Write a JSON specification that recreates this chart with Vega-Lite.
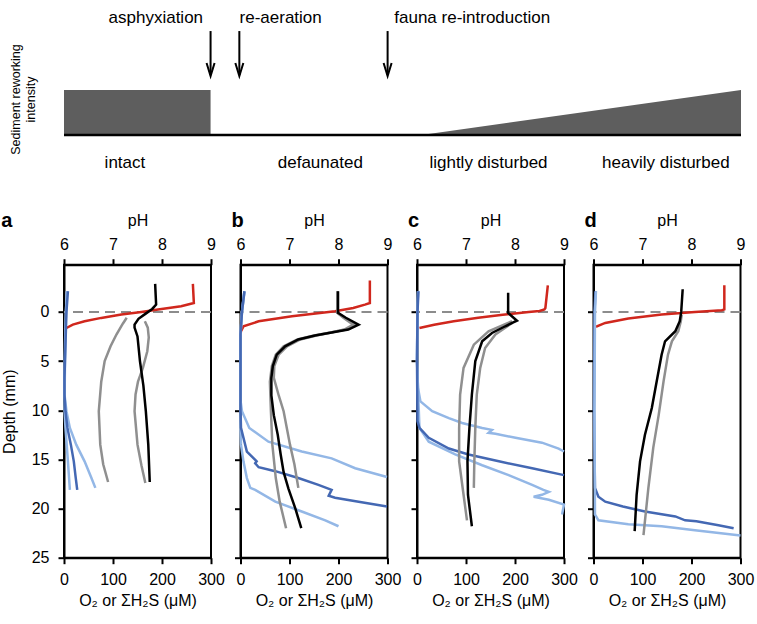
{
  "$schema": "https://vega.github.io/schema/vega-lite/v6.json",
  "padding": {"left": 0, "top": 0, "right": 0, "bottom": 0},
  "config": {
    "font": "Liberation Sans",
    "view": {"stroke": "black", "strokeWidth": 2},
    "axis": {"domainColor": "black", "domainWidth": 2, "tickColor": "black", "tickWidth": 2, "tickSize": 6, "labelFontSize": 16, "labelColor": "black", "titleFontSize": 16, "titleFontWeight": "normal", "titleColor": "black", "grid": false, "labelFlush": false, "labelOverlap": false},
    "axisTop": {"labelPadding": 6, "titlePadding": 8},
    "axisBottom": {"labelPadding": 8, "titlePadding": 5},
    "axisLeft": {"labelPadding": 9, "titlePadding": 14},
    "title": {"fontSize": 20, "fontWeight": "bold", "color": "black"}
  },
  "datasets": {
    "blocks": [{"stage": "intact", "t0": 0, "t1": 21.65, "h0": 0, "h1": 1}],
    "ramp": [{"t": 52.8, "h": 0}, {"t": 100, "h": 1}],
    "events": [
      {"event": "asphyxiation", "t": 21.65, "labelT": 13.56},
      {"event": "re-aeration", "t": 25.9, "labelT": 32.0},
      {"event": "fauna re-introduction", "t": 47.8, "labelT": 60.3}
    ],
    "stages": [
      {"stage": "intact", "t": 9.0},
      {"stage": "defaunated", "t": 37.86},
      {"stage": "lightly disturbed", "t": 62.7},
      {"stage": "heavily disturbed", "t": 88.9}
    ],
    "profiles": [
      {"p":"a","s":"O2","d":-2.85,"v":263},{"p":"a","s":"O2","d":-0.9,"v":265},{"p":"a","s":"O2","d":-0.75,"v":253},{"p":"a","s":"O2","d":-0.58,"v":239},{"p":"a","s":"O2","d":-0.24,"v":192},{"p":"a","s":"O2","d":0,"v":158},{"p":"a","s":"O2","d":0.27,"v":117},{"p":"a","s":"O2","d":0.61,"v":76},{"p":"a","s":"O2","d":0.95,"v":42},{"p":"a","s":"O2","d":1.29,"v":18},{"p":"a","s":"O2","d":1.63,"v":5},{"p":"a","s":"O2","d":1.8,"v":1},
      {"p":"a","s":"H2S light 2","d":-2.1,"v":6},{"p":"a","s":"H2S light 2","d":0,"v":4},{"p":"a","s":"H2S light 2","d":5,"v":2},{"p":"a","s":"H2S light 2","d":10,"v":1},{"p":"a","s":"H2S light 2","d":11.8,"v":3},{"p":"a","s":"H2S light 2","d":15.2,"v":8},{"p":"a","s":"H2S light 2","d":18.1,"v":12},
      {"p":"a","s":"H2S light 1","d":-2.1,"v":6},{"p":"a","s":"H2S light 1","d":0,"v":4},{"p":"a","s":"H2S light 1","d":3.3,"v":2},{"p":"a","s":"H2S light 1","d":6.7,"v":1},{"p":"a","s":"H2S light 1","d":8.4,"v":1},{"p":"a","s":"H2S light 1","d":10.1,"v":5},{"p":"a","s":"H2S light 1","d":11.8,"v":12},{"p":"a","s":"H2S light 1","d":13.5,"v":25},{"p":"a","s":"H2S light 1","d":15.2,"v":42},{"p":"a","s":"H2S light 1","d":16.9,"v":56},{"p":"a","s":"H2S light 1","d":17.9,"v":64},
      {"p":"a","s":"H2S dark","d":-2.1,"v":8},{"p":"a","s":"H2S dark","d":0,"v":5},{"p":"a","s":"H2S dark","d":3.3,"v":3},{"p":"a","s":"H2S dark","d":6.7,"v":1},{"p":"a","s":"H2S dark","d":8.4,"v":1},{"p":"a","s":"H2S dark","d":10.1,"v":3},{"p":"a","s":"H2S dark","d":11.8,"v":7},{"p":"a","s":"H2S dark","d":13.5,"v":14},{"p":"a","s":"H2S dark","d":15.2,"v":20},{"p":"a","s":"H2S dark","d":16.9,"v":24},{"p":"a","s":"H2S dark","d":18.1,"v":27},
      {"p":"a","s":"pH gray 1","d":0.6,"v":7.28},{"p":"a","s":"pH gray 1","d":1.2,"v":7.2},{"p":"a","s":"pH gray 1","d":2.3,"v":7.07},{"p":"a","s":"pH gray 1","d":3.5,"v":6.95},{"p":"a","s":"pH gray 1","d":5,"v":6.83},{"p":"a","s":"pH gray 1","d":7.1,"v":6.76},{"p":"a","s":"pH gray 1","d":10.1,"v":6.71},{"p":"a","s":"pH gray 1","d":13.5,"v":6.74},{"p":"a","s":"pH gray 1","d":15.5,"v":6.8},{"p":"a","s":"pH gray 1","d":17.3,"v":6.9},
      {"p":"a","s":"pH gray 2","d":0.95,"v":7.65},{"p":"a","s":"pH gray 2","d":1.6,"v":7.71},{"p":"a","s":"pH gray 2","d":2.6,"v":7.73},{"p":"a","s":"pH gray 2","d":4,"v":7.7},{"p":"a","s":"pH gray 2","d":5.7,"v":7.61},{"p":"a","s":"pH gray 2","d":7.1,"v":7.51},{"p":"a","s":"pH gray 2","d":8.4,"v":7.46},{"p":"a","s":"pH gray 2","d":10.1,"v":7.44},{"p":"a","s":"pH gray 2","d":13.5,"v":7.5},{"p":"a","s":"pH gray 2","d":15.6,"v":7.58},{"p":"a","s":"pH gray 2","d":17.4,"v":7.66},
      {"p":"a","s":"pH black","d":-2.85,"v":7.86},{"p":"a","s":"pH black","d":-0.75,"v":7.88},{"p":"a","s":"pH black","d":-0.3,"v":7.8},{"p":"a","s":"pH black","d":0.2,"v":7.66},{"p":"a","s":"pH black","d":0.7,"v":7.52},{"p":"a","s":"pH black","d":1.3,"v":7.44},{"p":"a","s":"pH black","d":1.6,"v":7.44},{"p":"a","s":"pH black","d":2.5,"v":7.5},{"p":"a","s":"pH black","d":5,"v":7.55},{"p":"a","s":"pH black","d":7.5,"v":7.62},{"p":"a","s":"pH black","d":10.1,"v":7.67},{"p":"a","s":"pH black","d":13.5,"v":7.72},{"p":"a","s":"pH black","d":17.3,"v":7.75},

      {"p":"b","s":"O2","d":-3.2,"v":264},{"p":"b","s":"O2","d":-0.9,"v":264},{"p":"b","s":"O2","d":-0.74,"v":254},{"p":"b","s":"O2","d":-0.4,"v":230},{"p":"b","s":"O2","d":-0.06,"v":193},{"p":"b","s":"O2","d":0.45,"v":105},{"p":"b","s":"O2","d":0.96,"v":37},{"p":"b","s":"O2","d":1.47,"v":6},{"p":"b","s":"O2","d":1.97,"v":1},{"p":"b","s":"O2","d":2.3,"v":0},
      {"p":"b","s":"H2S light 2","d":-2.1,"v":8},{"p":"b","s":"H2S light 2","d":0,"v":3},{"p":"b","s":"H2S light 2","d":2.3,"v":0},{"p":"b","s":"H2S light 2","d":12,"v":0},{"p":"b","s":"H2S light 2","d":13.5,"v":1},{"p":"b","s":"H2S light 2","d":15.2,"v":6},{"p":"b","s":"H2S light 2","d":16.9,"v":13},{"p":"b","s":"H2S light 2","d":17.9,"v":20},{"p":"b","s":"H2S light 2","d":18.1,"v":30},{"p":"b","s":"H2S light 2","d":19.3,"v":71},{"p":"b","s":"H2S light 2","d":20.3,"v":125},{"p":"b","s":"H2S light 2","d":21.2,"v":173},{"p":"b","s":"H2S light 2","d":21.8,"v":200},
      {"p":"b","s":"H2S light 1","d":-2.1,"v":8},{"p":"b","s":"H2S light 1","d":0,"v":3},{"p":"b","s":"H2S light 1","d":2.3,"v":0},{"p":"b","s":"H2S light 1","d":9,"v":0},{"p":"b","s":"H2S light 1","d":10.1,"v":3},{"p":"b","s":"H2S light 1","d":11.8,"v":18},{"p":"b","s":"H2S light 1","d":13.2,"v":57},{"p":"b","s":"H2S light 1","d":14.2,"v":125},{"p":"b","s":"H2S light 1","d":14.9,"v":186},{"p":"b","s":"H2S light 1","d":15.9,"v":234},{"p":"b","s":"H2S light 1","d":16.8,"v":299},
      {"p":"b","s":"H2S dark","d":-2.1,"v":8},{"p":"b","s":"H2S dark","d":0,"v":3},{"p":"b","s":"H2S dark","d":2.3,"v":0},{"p":"b","s":"H2S dark","d":10,"v":0},{"p":"b","s":"H2S dark","d":11.8,"v":1},{"p":"b","s":"H2S dark","d":14.2,"v":13},{"p":"b","s":"H2S dark","d":14.9,"v":27},{"p":"b","s":"H2S dark","d":15.2,"v":33},{"p":"b","s":"H2S dark","d":15.4,"v":30},{"p":"b","s":"H2S dark","d":15.8,"v":37},{"p":"b","s":"H2S dark","d":16.2,"v":71},{"p":"b","s":"H2S dark","d":16.9,"v":118},{"p":"b","s":"H2S dark","d":17.6,"v":159},{"p":"b","s":"H2S dark","d":18.1,"v":186},{"p":"b","s":"H2S dark","d":18.7,"v":180},{"p":"b","s":"H2S dark","d":18.9,"v":193},{"p":"b","s":"H2S dark","d":19.3,"v":241},{"p":"b","s":"H2S dark","d":19.8,"v":299},
      {"p":"b","s":"pH gray 1","d":-2.1,"v":7.98},{"p":"b","s":"pH gray 1","d":0.1,"v":7.98},{"p":"b","s":"pH gray 1","d":0.6,"v":8.1},{"p":"b","s":"pH gray 1","d":1.3,"v":8.3},{"p":"b","s":"pH gray 1","d":1.8,"v":8.12},{"p":"b","s":"pH gray 1","d":2.1,"v":7.85},{"p":"b","s":"pH gray 1","d":2.4,"v":7.55},{"p":"b","s":"pH gray 1","d":2.8,"v":7.22},{"p":"b","s":"pH gray 1","d":3.5,"v":6.95},{"p":"b","s":"pH gray 1","d":4.35,"v":6.78},{"p":"b","s":"pH gray 1","d":5.5,"v":6.69},{"p":"b","s":"pH gray 1","d":6.7,"v":6.68},{"p":"b","s":"pH gray 1","d":8.5,"v":6.78},{"p":"b","s":"pH gray 1","d":10.1,"v":6.88},{"p":"b","s":"pH gray 1","d":13.5,"v":7.01},{"p":"b","s":"pH gray 1","d":15.5,"v":7.1},{"p":"b","s":"pH gray 1","d":17.9,"v":7.18},
      {"p":"b","s":"pH gray 2","d":-2.1,"v":7.98},{"p":"b","s":"pH gray 2","d":0.1,"v":7.98},{"p":"b","s":"pH gray 2","d":0.6,"v":8.12},{"p":"b","s":"pH gray 2","d":1.3,"v":8.35},{"p":"b","s":"pH gray 2","d":1.8,"v":8.15},{"p":"b","s":"pH gray 2","d":2.1,"v":7.84},{"p":"b","s":"pH gray 2","d":2.4,"v":7.5},{"p":"b","s":"pH gray 2","d":2.8,"v":7.16},{"p":"b","s":"pH gray 2","d":3.5,"v":6.88},{"p":"b","s":"pH gray 2","d":4.35,"v":6.72},{"p":"b","s":"pH gray 2","d":5.5,"v":6.64},{"p":"b","s":"pH gray 2","d":7.1,"v":6.6},{"p":"b","s":"pH gray 2","d":10,"v":6.62},{"p":"b","s":"pH gray 2","d":13.5,"v":6.65},{"p":"b","s":"pH gray 2","d":16.9,"v":6.72},{"p":"b","s":"pH gray 2","d":19.3,"v":6.8},{"p":"b","s":"pH gray 2","d":22,"v":6.93},
      {"p":"b","s":"pH black","d":-2.1,"v":7.99},{"p":"b","s":"pH black","d":0.1,"v":7.99},{"p":"b","s":"pH black","d":0.6,"v":8.15},{"p":"b","s":"pH black","d":1.3,"v":8.41},{"p":"b","s":"pH black","d":1.8,"v":8.2},{"p":"b","s":"pH black","d":2.1,"v":7.86},{"p":"b","s":"pH black","d":2.4,"v":7.52},{"p":"b","s":"pH black","d":2.8,"v":7.18},{"p":"b","s":"pH black","d":3.5,"v":6.91},{"p":"b","s":"pH black","d":4.35,"v":6.74},{"p":"b","s":"pH black","d":5.5,"v":6.66},{"p":"b","s":"pH black","d":6.7,"v":6.63},{"p":"b","s":"pH black","d":8.5,"v":6.63},{"p":"b","s":"pH black","d":10.5,"v":6.68},{"p":"b","s":"pH black","d":12.5,"v":6.76},{"p":"b","s":"pH black","d":14.5,"v":6.82},{"p":"b","s":"pH black","d":16.3,"v":6.88},{"p":"b","s":"pH black","d":18,"v":6.98},{"p":"b","s":"pH black","d":20,"v":7.12},{"p":"b","s":"pH black","d":22,"v":7.24},

      {"p":"c","s":"O2","d":-2.7,"v":267},{"p":"c","s":"O2","d":-0.4,"v":262},{"p":"c","s":"O2","d":-0.24,"v":260},{"p":"c","s":"O2","d":-0.1,"v":250},{"p":"c","s":"O2","d":0,"v":228},{"p":"c","s":"O2","d":0.3,"v":175},{"p":"c","s":"O2","d":0.6,"v":125},{"p":"c","s":"O2","d":0.95,"v":75},{"p":"c","s":"O2","d":1.3,"v":35},{"p":"c","s":"O2","d":1.63,"v":5},
      {"p":"c","s":"H2S light 2","d":-2.1,"v":2},{"p":"c","s":"H2S light 2","d":0,"v":1},{"p":"c","s":"H2S light 2","d":5,"v":0},{"p":"c","s":"H2S light 2","d":11.8,"v":5},{"p":"c","s":"H2S light 2","d":13.2,"v":24},{"p":"c","s":"H2S light 2","d":14.5,"v":78},{"p":"c","s":"H2S light 2","d":15.6,"v":133},{"p":"c","s":"H2S light 2","d":16.6,"v":187},{"p":"c","s":"H2S light 2","d":17.6,"v":235},{"p":"c","s":"H2S light 2","d":18.1,"v":258},{"p":"c","s":"H2S light 2","d":18.3,"v":269},{"p":"c","s":"H2S light 2","d":18.6,"v":255},{"p":"c","s":"H2S light 2","d":18.8,"v":238},{"p":"c","s":"H2S light 2","d":19.1,"v":269},{"p":"c","s":"H2S light 2","d":19.6,"v":300},{"p":"c","s":"H2S light 2","d":20.6,"v":296},
      {"p":"c","s":"H2S light 1","d":-2.1,"v":2},{"p":"c","s":"H2S light 1","d":0,"v":1},{"p":"c","s":"H2S light 1","d":5,"v":0},{"p":"c","s":"H2S light 1","d":7.7,"v":2},{"p":"c","s":"H2S light 1","d":9.1,"v":7},{"p":"c","s":"H2S light 1","d":10.1,"v":31},{"p":"c","s":"H2S light 1","d":10.8,"v":65},{"p":"c","s":"H2S light 1","d":11.3,"v":92},{"p":"c","s":"H2S light 1","d":11.8,"v":133},{"p":"c","s":"H2S light 1","d":12.0,"v":153},{"p":"c","s":"H2S light 1","d":12.3,"v":146},{"p":"c","s":"H2S light 1","d":12.4,"v":160},{"p":"c","s":"H2S light 1","d":12.8,"v":201},{"p":"c","s":"H2S light 1","d":13.3,"v":255},{"p":"c","s":"H2S light 1","d":13.9,"v":289},{"p":"c","s":"H2S light 1","d":14.2,"v":300},
      {"p":"c","s":"H2S dark","d":-2.1,"v":3},{"p":"c","s":"H2S dark","d":0,"v":1},{"p":"c","s":"H2S dark","d":5,"v":0},{"p":"c","s":"H2S dark","d":11.1,"v":1},{"p":"c","s":"H2S dark","d":11.8,"v":5},{"p":"c","s":"H2S dark","d":12.8,"v":24},{"p":"c","s":"H2S dark","d":13.9,"v":65},{"p":"c","s":"H2S dark","d":14.5,"v":105},{"p":"c","s":"H2S dark","d":15.2,"v":167},{"p":"c","s":"H2S dark","d":15.9,"v":235},{"p":"c","s":"H2S dark","d":16.6,"v":300},
      {"p":"c","s":"pH gray 1","d":0.95,"v":7.94},{"p":"c","s":"pH gray 1","d":1.97,"v":7.46},{"p":"c","s":"pH gray 1","d":3.33,"v":7.16},{"p":"c","s":"pH gray 1","d":5.7,"v":6.95},{"p":"c","s":"pH gray 1","d":8.4,"v":6.88},{"p":"c","s":"pH gray 1","d":11.8,"v":6.86},{"p":"c","s":"pH gray 1","d":15.2,"v":6.86},{"p":"c","s":"pH gray 1","d":18.6,"v":6.95},{"p":"c","s":"pH gray 1","d":21.2,"v":7.02},
      {"p":"c","s":"pH gray 2","d":1.1,"v":7.95},{"p":"c","s":"pH gray 2","d":2.3,"v":7.6},{"p":"c","s":"pH gray 2","d":3.67,"v":7.39},{"p":"c","s":"pH gray 2","d":5.7,"v":7.29},{"p":"c","s":"pH gray 2","d":8.4,"v":7.22},{"p":"c","s":"pH gray 2","d":11.8,"v":7.19},{"p":"c","s":"pH gray 2","d":15.2,"v":7.17},{"p":"c","s":"pH gray 2","d":17.9,"v":7.16},
      {"p":"c","s":"pH black","d":-1.94,"v":7.86},{"p":"c","s":"pH black","d":0.1,"v":7.86},{"p":"c","s":"pH black","d":0.9,"v":8.04},{"p":"c","s":"pH black","d":1.46,"v":7.8},{"p":"c","s":"pH black","d":2.14,"v":7.53},{"p":"c","s":"pH black","d":2.99,"v":7.33},{"p":"c","s":"pH black","d":5,"v":7.19},{"p":"c","s":"pH black","d":8.4,"v":7.12},{"p":"c","s":"pH black","d":11.8,"v":7.07},{"p":"c","s":"pH black","d":15.2,"v":7.03},{"p":"c","s":"pH black","d":18.6,"v":7.04},{"p":"c","s":"pH black","d":21.8,"v":7.12},

      {"p":"d","s":"O2","d":-2.7,"v":267},{"p":"d","s":"O2","d":-0.25,"v":267},{"p":"d","s":"O2","d":-0.17,"v":262},{"p":"d","s":"O2","d":0,"v":207},{"p":"d","s":"O2","d":0.27,"v":139},{"p":"d","s":"O2","d":0.68,"v":71},{"p":"d","s":"O2","d":1.12,"v":24},{"p":"d","s":"O2","d":1.46,"v":7},{"p":"d","s":"O2","d":1.55,"v":5},
      {"p":"d","s":"H2S dark","d":-2.1,"v":4},{"p":"d","s":"H2S dark","d":0,"v":2},{"p":"d","s":"H2S dark","d":10,"v":1},{"p":"d","s":"H2S dark","d":17.9,"v":3},{"p":"d","s":"H2S dark","d":18.8,"v":10},{"p":"d","s":"H2S dark","d":19.3,"v":24},{"p":"d","s":"H2S dark","d":19.8,"v":60},{"p":"d","s":"H2S dark","d":20.3,"v":105},{"p":"d","s":"H2S dark","d":20.8,"v":167},{"p":"d","s":"H2S dark","d":21.2,"v":187},{"p":"d","s":"H2S dark","d":21.3,"v":210},{"p":"d","s":"H2S dark","d":21.7,"v":255},{"p":"d","s":"H2S dark","d":22.0,"v":286},
      {"p":"d","s":"H2S light 1","d":-2.1,"v":5},{"p":"d","s":"H2S light 1","d":0,"v":3},{"p":"d","s":"H2S light 1","d":10,"v":2},{"p":"d","s":"H2S light 1","d":20.6,"v":3},{"p":"d","s":"H2S light 1","d":21.2,"v":10},{"p":"d","s":"H2S light 1","d":21.6,"v":71},{"p":"d","s":"H2S light 1","d":21.8,"v":139},{"p":"d","s":"H2S light 1","d":22.2,"v":207},{"p":"d","s":"H2S light 1","d":22.75,"v":300},
      {"p":"d","s":"pH gray 1","d":0.3,"v":7.8},{"p":"d","s":"pH gray 1","d":1.0,"v":7.78},{"p":"d","s":"pH gray 1","d":1.97,"v":7.73},{"p":"d","s":"pH gray 1","d":2.99,"v":7.6},{"p":"d","s":"pH gray 1","d":4.35,"v":7.52},{"p":"d","s":"pH gray 1","d":7.06,"v":7.43},{"p":"d","s":"pH gray 1","d":10.5,"v":7.33},{"p":"d","s":"pH gray 1","d":13.8,"v":7.22},{"p":"d","s":"pH gray 1","d":17.9,"v":7.12},{"p":"d","s":"pH gray 1","d":22.7,"v":7.02},
      {"p":"d","s":"pH black","d":-2.3,"v":7.82},{"p":"d","s":"pH black","d":0,"v":7.79},{"p":"d","s":"pH black","d":0.95,"v":7.76},{"p":"d","s":"pH black","d":1.97,"v":7.67},{"p":"d","s":"pH black","d":2.99,"v":7.46},{"p":"d","s":"pH black","d":4.35,"v":7.39},{"p":"d","s":"pH black","d":7.06,"v":7.29},{"p":"d","s":"pH black","d":9.78,"v":7.19},{"p":"d","s":"pH black","d":12.5,"v":7.05},{"p":"d","s":"pH black","d":15.2,"v":6.95},{"p":"d","s":"pH black","d":18.6,"v":6.88},{"p":"d","s":"pH black","d":22.3,"v":6.84}
    ]
  },
  "bounds": "flush",
  "spacing": 84.7,
  "vconcat": [
    {
      "width": 677,
      "height": 180,
      "view": {"stroke": null},
      "layer": [
        {
          "data": {"name": "blocks"},
          "mark": {"type": "rect", "fill": "#5e5e5e"},
          "encoding": {
            "x": {"field": "t0", "type": "quantitative", "scale": {"domain": [0, 100], "nice": false, "zero": false}, "axis": null},
            "x2": {"field": "t1"},
            "y": {"field": "h0", "type": "quantitative", "scale": {"domain": [-1, 3], "nice": false, "zero": false},
                  "axis": {"title": ["Sediment reworking", "intensity"], "labels": false, "ticks": false, "domain": false, "grid": false, "titleFontSize": 12.5, "titleX": -42, "titleY": 99, "titleAngle": -90, "titleAlign": "center", "titleBaseline": "bottom", "titleLineHeight": 15}},
            "y2": {"field": "h1"}
          }
        },
        {
          "data": {"name": "ramp"},
          "mark": {"type": "area", "fill": "#5e5e5e"},
          "encoding": {
            "x": {"field": "t", "type": "quantitative", "axis": null},
            "y": {"field": "h", "type": "quantitative"}
          }
        },
        {
          "data": {"values": [{}]},
          "mark": {"type": "rule", "color": "black", "strokeWidth": 2.5},
          "encoding": {"y": {"datum": 0, "type": "quantitative"}}
        },
        {
          "data": {"name": "events"},
          "mark": {"type": "rule", "color": "black", "strokeWidth": 2},
          "encoding": {
            "x": {"field": "t", "type": "quantitative", "axis": null},
            "y": {"datum": 2.31, "type": "quantitative"},
            "y2": {"datum": 1.33}
          }
        },
        {
          "data": {"name": "events"},
          "mark": {"type": "point", "shape": "M-1,-3.25L0,0L1,-3.25", "size": 64, "filled": false, "color": "black", "strokeWidth": 2, "opacity": 1},
          "encoding": {
            "x": {"field": "t", "type": "quantitative", "axis": null},
            "y": {"datum": 1.31, "type": "quantitative"}
          }
        },
        {
          "data": {"name": "events"},
          "mark": {"type": "text", "fontSize": 17, "align": "center", "baseline": "alphabetic", "color": "black"},
          "encoding": {
            "x": {"field": "labelT", "type": "quantitative", "axis": null},
            "y": {"datum": 2.49, "type": "quantitative"},
            "text": {"field": "event"}
          }
        },
        {
          "data": {"name": "stages"},
          "mark": {"type": "text", "fontSize": 17, "align": "center", "baseline": "alphabetic", "color": "black"},
          "encoding": {
            "x": {"field": "t", "type": "quantitative", "axis": null},
            "y": {"datum": -0.733, "type": "quantitative"},
            "text": {"field": "stage"}
          }
        }
      ]
    },
    {
      "bounds": "flush",
      "spacing": 29.5,
      "hconcat": [
        {
          "width": 147, "height": 293,
          "title": {"text": "a", "anchor": "start", "frame": "bounds", "baseline": "alphabetic", "offset": 0, "dy": 34},
          "layer": [
            {"data": {"values": [{}]}, "mark": {"type": "rule", "color": "#8c8c8c", "strokeDash": [10, 6], "strokeWidth": 2}, "encoding": {"y": {"datum": 0, "type": "quantitative"}}},
            {"data": {"name": "profiles"}, "transform": [{"filter": "datum.p === 'a' && indexof(datum.s, 'pH') < 0"}], "mark": {"type": "line", "strokeWidth": 2.5},
             "encoding": {
               "x": {"field": "v", "type": "quantitative", "scale": {"domain": [0, 300], "nice": false, "zero": false}, "axis": {"orient": "bottom", "values": [0, 100, 200, 300], "title": "O₂ or ΣH₂S (μM)"}},
               "y": {"field": "d", "type": "quantitative", "scale": {"domain": [-4.8, 25], "reverse": true, "nice": false, "zero": false}, "axis": {"values": [0, 5, 10, 15, 20, 25], "title": "Depth (mm)"}},
               "color": {"field": "s", "type": "nominal", "scale": {"domain": ["O2", "H2S light 2", "H2S light 1", "H2S dark", "pH gray 1", "pH gray 2", "pH black"], "range": ["#d0271d", "#93b7e6", "#93b7e6", "#4468b3", "#8f8f8f", "#8f8f8f", "#000000"]}, "legend": null},
               "order": {"field": "d", "type": "quantitative"}
             }},
            {"data": {"name": "profiles"}, "transform": [{"filter": "datum.p === 'a' && indexof(datum.s, 'pH') === 0"}], "mark": {"type": "line", "strokeWidth": 2.5},
             "encoding": {
               "x": {"field": "v", "type": "quantitative", "scale": {"domain": [6, 9], "nice": false, "zero": false}, "axis": {"orient": "top", "values": [6, 7, 8, 9], "title": "pH"}},
               "y": {"field": "d", "type": "quantitative"},
               "color": {"field": "s", "type": "nominal", "legend": null},
               "order": {"field": "d", "type": "quantitative"}
             }}
          ],
          "resolve": {"scale": {"x": "independent"}}
        },
        {
          "width": 147, "height": 293,
          "title": {"text": "b", "anchor": "start", "frame": "group", "dx": -9, "baseline": "alphabetic", "offset": 0, "dy": 34},
          "layer": [
            {"data": {"values": [{}]}, "mark": {"type": "rule", "color": "#8c8c8c", "strokeDash": [10, 6], "strokeWidth": 2}, "encoding": {"y": {"datum": 0, "type": "quantitative"}}},
            {"data": {"name": "profiles"}, "transform": [{"filter": "datum.p === 'b' && indexof(datum.s, 'pH') < 0"}], "mark": {"type": "line", "strokeWidth": 2.5},
             "encoding": {
               "x": {"field": "v", "type": "quantitative", "scale": {"domain": [0, 300], "nice": false, "zero": false}, "axis": {"orient": "bottom", "values": [0, 100, 200, 300], "title": "O₂ or ΣH₂S (μM)"}},
               "y": {"field": "d", "type": "quantitative", "scale": {"domain": [-4.8, 25], "reverse": true, "nice": false, "zero": false}, "axis": {"values": [0, 5, 10, 15, 20, 25], "labels": false, "title": null}},
               "color": {"field": "s", "type": "nominal", "scale": {"domain": ["O2", "H2S light 2", "H2S light 1", "H2S dark", "pH gray 1", "pH gray 2", "pH black"], "range": ["#d0271d", "#93b7e6", "#93b7e6", "#4468b3", "#8f8f8f", "#8f8f8f", "#000000"]}, "legend": null},
               "order": {"field": "d", "type": "quantitative"}
             }},
            {"data": {"name": "profiles"}, "transform": [{"filter": "datum.p === 'b' && indexof(datum.s, 'pH') === 0"}], "mark": {"type": "line", "strokeWidth": 2.5},
             "encoding": {
               "x": {"field": "v", "type": "quantitative", "scale": {"domain": [6, 9], "nice": false, "zero": false}, "axis": {"orient": "top", "values": [6, 7, 8, 9], "title": "pH"}},
               "y": {"field": "d", "type": "quantitative"},
               "color": {"field": "s", "type": "nominal", "legend": null},
               "order": {"field": "d", "type": "quantitative"}
             }}
          ],
          "resolve": {"scale": {"x": "independent"}}
        },
        {
          "width": 147, "height": 293,
          "title": {"text": "c", "anchor": "start", "frame": "group", "dx": -9, "baseline": "alphabetic", "offset": 0, "dy": 34},
          "layer": [
            {"data": {"values": [{}]}, "mark": {"type": "rule", "color": "#8c8c8c", "strokeDash": [10, 6], "strokeWidth": 2}, "encoding": {"y": {"datum": 0, "type": "quantitative"}}},
            {"data": {"name": "profiles"}, "transform": [{"filter": "datum.p === 'c' && indexof(datum.s, 'pH') < 0"}], "mark": {"type": "line", "strokeWidth": 2.5},
             "encoding": {
               "x": {"field": "v", "type": "quantitative", "scale": {"domain": [0, 300], "nice": false, "zero": false}, "axis": {"orient": "bottom", "values": [0, 100, 200, 300], "title": "O₂ or ΣH₂S (μM)"}},
               "y": {"field": "d", "type": "quantitative", "scale": {"domain": [-4.8, 25], "reverse": true, "nice": false, "zero": false}, "axis": {"values": [0, 5, 10, 15, 20, 25], "labels": false, "title": null}},
               "color": {"field": "s", "type": "nominal", "scale": {"domain": ["O2", "H2S light 2", "H2S light 1", "H2S dark", "pH gray 1", "pH gray 2", "pH black"], "range": ["#d0271d", "#93b7e6", "#93b7e6", "#4468b3", "#8f8f8f", "#8f8f8f", "#000000"]}, "legend": null},
               "order": {"field": "d", "type": "quantitative"}
             }},
            {"data": {"name": "profiles"}, "transform": [{"filter": "datum.p === 'c' && indexof(datum.s, 'pH') === 0"}], "mark": {"type": "line", "strokeWidth": 2.5},
             "encoding": {
               "x": {"field": "v", "type": "quantitative", "scale": {"domain": [6, 9], "nice": false, "zero": false}, "axis": {"orient": "top", "values": [6, 7, 8, 9], "title": "pH"}},
               "y": {"field": "d", "type": "quantitative"},
               "color": {"field": "s", "type": "nominal", "legend": null},
               "order": {"field": "d", "type": "quantitative"}
             }}
          ],
          "resolve": {"scale": {"x": "independent"}}
        },
        {
          "width": 147, "height": 293,
          "title": {"text": "d", "anchor": "start", "frame": "group", "dx": -9, "baseline": "alphabetic", "offset": 0, "dy": 34},
          "layer": [
            {"data": {"values": [{}]}, "mark": {"type": "rule", "color": "#8c8c8c", "strokeDash": [10, 6], "strokeWidth": 2}, "encoding": {"y": {"datum": 0, "type": "quantitative"}}},
            {"data": {"name": "profiles"}, "transform": [{"filter": "datum.p === 'd' && indexof(datum.s, 'pH') < 0"}], "mark": {"type": "line", "strokeWidth": 2.5},
             "encoding": {
               "x": {"field": "v", "type": "quantitative", "scale": {"domain": [0, 300], "nice": false, "zero": false}, "axis": {"orient": "bottom", "values": [0, 100, 200, 300], "title": "O₂ or ΣH₂S (μM)"}},
               "y": {"field": "d", "type": "quantitative", "scale": {"domain": [-4.8, 25], "reverse": true, "nice": false, "zero": false}, "axis": {"values": [0, 5, 10, 15, 20, 25], "labels": false, "title": null}},
               "color": {"field": "s", "type": "nominal", "scale": {"domain": ["O2", "H2S light 2", "H2S light 1", "H2S dark", "pH gray 1", "pH gray 2", "pH black"], "range": ["#d0271d", "#93b7e6", "#93b7e6", "#4468b3", "#8f8f8f", "#8f8f8f", "#000000"]}, "legend": null},
               "order": {"field": "d", "type": "quantitative"}
             }},
            {"data": {"name": "profiles"}, "transform": [{"filter": "datum.p === 'd' && indexof(datum.s, 'pH') === 0"}], "mark": {"type": "line", "strokeWidth": 2.5},
             "encoding": {
               "x": {"field": "v", "type": "quantitative", "scale": {"domain": [6, 9], "nice": false, "zero": false}, "axis": {"orient": "top", "values": [6, 7, 8, 9], "title": "pH"}},
               "y": {"field": "d", "type": "quantitative"},
               "color": {"field": "s", "type": "nominal", "legend": null},
               "order": {"field": "d", "type": "quantitative"}
             }}
          ],
          "resolve": {"scale": {"x": "independent"}}
        }
      ]
    }
  ]
}
